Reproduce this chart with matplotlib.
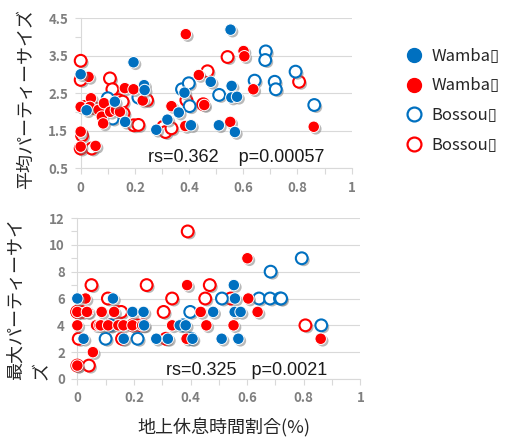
import matplotlib
matplotlib.use("Agg")
import matplotlib.pyplot as plt
import matplotlib.patheffects as pe
from matplotlib.lines import Line2D
import numpy as np

# ---------------- DATA ----------------
# Wamba, first sex (blue filled)
wamba_a_x = [0.0, 0.022, 0.126, 0.164, 0.195, 0.234, 0.236, 0.279, 0.32, 0.362,
             0.383, 0.407, 0.48, 0.51, 0.553, 0.557, 0.556, 0.577, 0.569]
wamba_a_mean = [3.0, 2.04, 2.27, 1.73, 3.32, 2.71, 2.58, 1.52, 1.79, 1.98,
                2.51, 1.64, 2.8, 1.64, 4.19, 2.69, 2.38, 2.4, 1.46]
wamba_a_max = [6, 3, 6, 3, 5, 5, 4, 3, 3, 4, 4, 3, 5, 3, 7, 6, 5, 5, 3]

# Wamba, second sex (red filled)
wamba_b_x = [0.0, 0.0, 0.0, 0.055, 0.029, 0.038, 0.034, 0.066, 0.078, 0.083,
             0.086, 0.109, 0.13, 0.145, 0.163, 0.195, 0.229, 0.335, 0.388, 0.386,
             0.436, 0.456, 0.552, 0.601, 0.604, 0.637, 0.86]
wamba_b_mean = [1.07, 1.47, 2.13, 1.09, 2.93, 2.36, 2.13, 2.05, 1.87, 1.69,
                2.23, 2.0, 2.05, 2.0, 2.63, 2.6, 2.3, 2.15, 4.07, 1.62,
                2.98, 2.18, 1.73, 3.62, 3.48, 2.6, 1.6]
wamba_b_max = [1, 4, 5, 2, 6, 5, 5, 4, 4, 4, 5, 4, 5, 4, 4, 4, 4, 4, 7, 3,
               5, 4, 4, 9, 6, 5, 3]

# Bossou, first sex (blue hollow)
bossou_a_x = [0.10, 0.118, 0.213, 0.374, 0.399, 0.402, 0.511, 0.642, 0.683, 0.681,
              0.716, 0.72, 0.793, 0.862]
bossou_a_mean = [2.36, 1.82, 2.38, 2.6, 2.76, 2.15, 2.45, 2.83, 3.61, 3.38,
                 2.8, 2.6, 3.07, 2.18]
bossou_a_max = [3, 4, 3, 4, 5, 3, 6, 6, 8, 6, 6, 6, 9, 4]

# Bossou, second sex (red hollow)
bossou_b_x = [0.0, 0.0, 0.005, 0.0, 0.041, 0.05, 0.016, 0.108, 0.117, 0.14,
              0.155, 0.158, 0.196, 0.213, 0.232, 0.245, 0.305, 0.313, 0.335, 0.39,
              0.452, 0.468, 0.542, 0.806]
bossou_b_mean = [3.36, 2.85, 1.37, 1.02, 1.02, 2.1, 2.13, 2.89, 2.6, 2.31,
                 2.27, 1.96, 1.64, 1.65, 2.35, 2.31, 1.6, 1.46, 1.56, 2.31,
                 2.2, 3.08, 3.46, 2.8]
bossou_b_max = [5, 5, 3, 1, 1, 7, 5, 6, 4, 5, 5, 3, 4, 4, 4, 7, 5, 3, 6, 11,
                6, 7, 6, 4]

legend_labels = ["Wamba\u25af", "Wamba\u25af", "Bossou\u25af", "Bossou\u25af"]
mean_stats = "rs=0.362    p=0.00057"
max_stats = "rs=0.325   p=0.0021"

BLUE = "#0070c0"
RED = "#ff0000"
GRID = "#d9d9d9"
TICK_TXT = "#7f7f7f"
JP = ["Noto Sans CJK JP", "DejaVu Sans"]

shadow = [pe.SimplePatchShadow(offset=(1.5, -1.5), shadow_rgbFace="#808080", alpha=0.55),
          pe.Normal()]


def style_axes(ax):
    for side in ["top", "right"]:
        ax.spines[side].set_visible(False)
    for side in ["left", "bottom"]:
        ax.spines[side].set_color(GRID)
        ax.spines[side].set_linewidth(0.8)
    ax.tick_params(which="both", direction="out", color=GRID, width=0.8)
    ax.tick_params(which="major", length=4, pad=5)
    ax.tick_params(which="minor", length=4)
    ax.grid(axis="y", which="major", color=GRID, linewidth=0.8)
    ax.set_axisbelow(True)
    ax.set_xlim(0, 1)
    ax.set_xticks(np.arange(0, 1.01, 0.2))
    ax.set_xticks(np.arange(0, 1.01, 0.1), minor=True)
    ax.xaxis.set_major_formatter(lambda v, p: f"{v:g}")
    for lab in ax.get_xticklabels() + ax.get_yticklabels():
        lab.set_fontfamily(JP)
        lab.set_fontweight("bold")
        lab.set_fontsize(9.5)
        lab.set_color(TICK_TXT)


def draw_points(ax, key):
    series = [
        (bossou_b_x, bossou_b_mean, bossou_b_max, "hollow", RED),
        (bossou_a_x, bossou_a_mean, bossou_a_max, "hollow", BLUE),
        (wamba_b_x, wamba_b_mean, wamba_b_max, "filled", RED),
        (wamba_a_x, wamba_a_mean, wamba_a_max, "filled", BLUE),
    ]
    for z, (xs, mean, mx, kind, col) in enumerate(series):
        ys = mean if key == "mean" else mx
        if kind == "filled":
            ax.scatter(xs, ys, s=68, c=col, edgecolors="white", linewidths=0.7,
                       zorder=3 + z, clip_on=False, path_effects=shadow)
        else:
            ax.scatter(xs, ys, s=72, c="white", edgecolors=col, linewidths=1.5,
                       zorder=3 + z, clip_on=False, path_effects=shadow)


fig = plt.figure(figsize=(5.09, 4.44), dpi=100)

# ---------------- MEAN PARTY SIZE ----------------
ax1 = fig.add_axes([0.1585, 0.6216, 0.5324, 0.3378])
draw_points(ax1, "mean")
ax1.set_ylim(0.5, 4.5)
ax1.set_yticks(np.arange(0.5, 4.6, 1.0))
ax1.set_yticks(np.arange(0.5, 4.6, 0.5), minor=True)
style_axes(ax1)
ax1.text(0.248, 0.04, mean_stats, transform=ax1.transAxes, fontsize=13,
         family="Liberation Sans", color="#1a1a1a", va="baseline", ha="left")

# ---------------- MAX PARTY SIZE ----------------
ax2 = fig.add_axes([0.1519, 0.1464, 0.556, 0.3626])
draw_points(ax2, "max")
ax2.set_ylim(0, 12)
ax2.set_yticks(np.arange(0, 12.1, 2))
ax2.set_yticks(np.arange(0, 12.1, 1), minor=True)
style_axes(ax2)
ax2.text(0.313, 0.025, max_stats, transform=ax2.transAxes, fontsize=13,
         family="Liberation Sans", color="#1a1a1a", va="baseline", ha="left")

# axis titles
fig.text(26 / 509, 1 - 99 / 444, "平均パーティーサイズ", rotation=90, fontsize=13,
         family=JP, color="#262626", ha="center", va="center")
fig.text(28.5 / 509, 1 - 299 / 444, "最大パーティーサイ\nズ", rotation=90, fontsize=13,
         family=JP, color="#262626", ha="center", va="center",
         multialignment="left", linespacing=1.55)
fig.text(224 / 509, 1 - 428 / 444, "地上休息時間割合(%)", fontsize=13,
         family=JP, color="#262626", ha="center", va="center")

# ---------------- LEGEND ----------------
handles = [
    Line2D([], [], ls="", marker="o", ms=10, mfc=BLUE, mec=BLUE),
    Line2D([], [], ls="", marker="o", ms=10, mfc=RED, mec=RED),
    Line2D([], [], ls="", marker="o", ms=10, mfc="white", mec=BLUE, mew=1.6),
    Line2D([], [], ls="", marker="o", ms=10, mfc="white", mec=RED, mew=1.6),
]
fig.legend(handles, legend_labels, loc="upper left", bbox_to_anchor=(406 / 509, 1 - 48 / 444),
           frameon=False, borderpad=0, borderaxespad=0, handlelength=1.0,
           handletextpad=0.55, labelspacing=0.75,
           prop={"family": JP, "size": 12}, labelcolor="#262626")

plt.savefig("out.png", dpi=100)
